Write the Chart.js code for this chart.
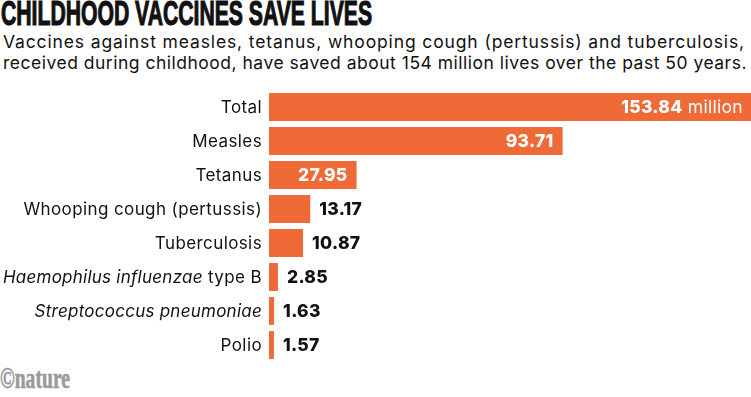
<!DOCTYPE html>
<html><head><meta charset="utf-8">
<script src="https://cdn.jsdelivr.net/npm/chart.js@4"></script>
<style>
html,body{margin:0;padding:0;background:#fff;width:751px;height:397px;overflow:hidden;position:relative;}
#title{position:absolute;left:1px;top:-7px;font-family:"Liberation Sans Narrow","Liberation Sans","DejaVu Sans Condensed",sans-serif;font-weight:bold;font-size:35px;color:#111;-webkit-text-stroke:1.2px #111;white-space:nowrap;transform-origin:0 0;}
.sub{position:absolute;left:3px;font-family:Inter,Roboto,sans-serif;font-size:17.5px;line-height:20px;color:#111;white-space:nowrap;}
#logo{position:absolute;left:0px;top:362px;font-family:"Liberation Serif",serif;font-weight:bold;font-size:29px;line-height:32px;color:#9a9a9a;-webkit-text-stroke:0.6px #9a9a9a;white-space:nowrap;transform-origin:0 0;}
#wrap{position:absolute;left:0;top:0;width:751px;height:397px;}
</style></head><body>
<div id="title">CHILDHOOD VACCINES SAVE LIVES</div>
<div class="sub" id="s1" style="top:32px">Vaccines against measles, tetanus, whooping cough (pertussis) and tuberculosis,</div>
<div class="sub" id="s2" style="top:53px">received during childhood, have saved about 154 million lives over the past 50 years.</div>
<div id="logo">©nature</div>
<div id="wrap"><canvas id="c" width="751" height="397"></canvas></div>
<script>
const categories = ["Total","Measles","Tetanus","Whooping cough (pertussis)","Tuberculosis","Haemophilus influenzae type B","Streptococcus pneumoniae","Polio"];
// label segments: [text, italic]
const labelParts = [
  [["Total",false]],
  [["Measles",false]],
  [["Tetanus",false]],
  [["Whooping cough (pertussis)",false]],
  [["Tuberculosis",false]],
  [["Haemophilus influenzae",true],[" type B",false]],
  [["Streptococcus pneumoniae",true]],
  [["Polio",false]]
];
const livesSaved = [153.84, 93.71, 27.95, 13.17, 10.87, 2.85, 1.63, 1.57];
const valueLabels = ["153.84","93.71","27.95","13.17","10.87","2.85","1.63","1.57"];
const insideCount = 3;

const ORANGE = "#ef6a37";
const FONT = "Inter, Roboto, sans-serif";

function fitWidth(id, w) {
  const el = document.getElementById(id);
  const cur = el.getBoundingClientRect().width;
  el.style.transform = "scaleX(" + (w / cur) + ")";
}
function fitSpacing(id, w) {
  const el = document.getElementById(id);
  const cur = el.getBoundingClientRect().width;
  const n = el.textContent.length;
  el.style.letterSpacing = ((w - cur) / n) + "px";
}
fitWidth("title", 371);
fitWidth("logo", 70);
fitSpacing("s1", 742);
fitSpacing("s2", 744);

const labelPlugin = {
  id: "labels",
  afterDatasetsDraw(chart) {
    const ctx = chart.ctx;
    const xs = chart.scales.x, ys = chart.scales.y;
    ctx.save();
    ctx.textBaseline = "middle";
    categories.forEach((c, i) => {
      const y = ys.getPixelForValue(i) + 1;
      let x = xs.left - 7;
      const parts = labelParts[i];
      for (let p = parts.length - 1; p >= 0; p--) {
        const [t, it] = parts[p];
        ctx.letterSpacing = it ? "0.25px" : "0.4px";
        ctx.font = (it ? "italic " : "") + "400 17px " + FONT;
        ctx.fillStyle = "#111";
        ctx.textAlign = "right";
        ctx.fillText(t, x, y);
        x -= ctx.measureText(t).width;
      }
      ctx.letterSpacing = "0.3px";
      const end = xs.getPixelForValue(livesSaved[i]);
      ctx.font = "800 17.5px " + FONT;
      if (i < insideCount) {
        ctx.fillStyle = "#fff";
        ctx.textAlign = "right";
        if (i === 0) {
          ctx.font = "400 17.5px " + FONT;
          const mw = ctx.measureText(" million").width;
          ctx.fillText(" million", end - 8, y);
          ctx.font = "800 17.5px " + FONT;
          ctx.fillText(valueLabels[i], end - 8 - mw, y);
        } else {
          ctx.fillText(valueLabels[i], end - 9, y);
        }
      } else {
        ctx.fillStyle = "#111";
        ctx.textAlign = "left";
        ctx.fillText(valueLabels[i], end + 9, y);
      }
    });
    ctx.restore();
  }
};

new Chart(document.getElementById("c"), {
  type: "bar",
  data: { labels: categories, datasets: [{ data: livesSaved, backgroundColor: ORANGE, borderWidth: 0, categoryPercentage: 1, barPercentage: 0.82 }] },
  options: {
    indexAxis: "y",
    responsive: false,
    animation: false,
    events: [],
    layout: { padding: { left: 269, right: 0, top: 90, bottom: 35 } },
    plugins: { legend: { display: false }, tooltip: { enabled: false } },
    scales: {
      x: { display: false, min: 0, max: 153.84 },
      y: { display: false }
    }
  },
  plugins: [labelPlugin]
});
</script>
</body></html>
